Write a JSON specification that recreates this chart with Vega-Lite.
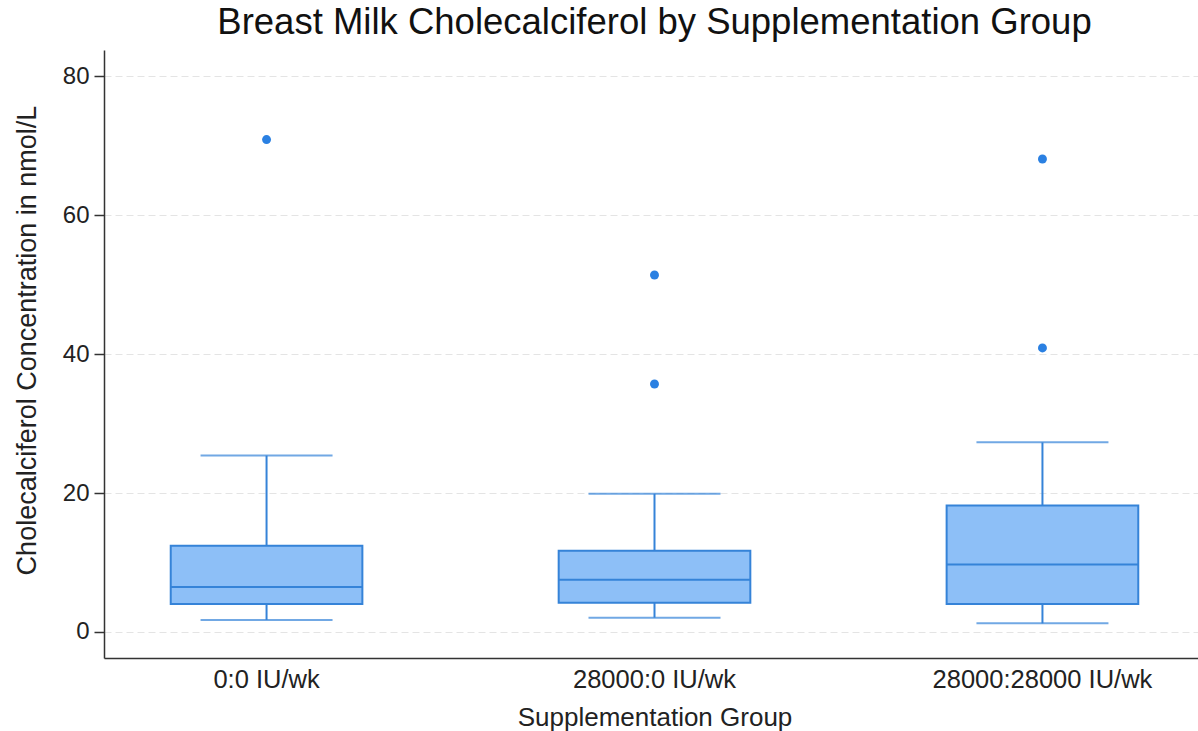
{
  "$schema": "https://vega.github.io/schema/vega-lite/v6.json",
  "autosize": {"type": "none"},
  "padding": {"left": 104, "top": 50, "right": 0, "bottom": 73},
  "width": 1101,
  "height": 608,
  "background": "white",
  "title": {
    "text": "Breast Milk Cholecalciferol by Supplementation Group",
    "font": "Liberation Sans",
    "fontSize": 36.5,
    "fontWeight": "normal",
    "color": "#111111",
    "anchor": "middle",
    "baseline": "alphabetic",
    "offset": 15,
    "dy": 35
  },
  "datasets": {
    "boxes": [
      {"group": "0:0 IU/wk", "lower": 1.73, "q1": 4.03, "median": 6.47, "q3": 12.4, "upper": 25.4},
      {"group": "28000:0 IU/wk", "lower": 2.06, "q1": 4.2, "median": 7.5, "q3": 11.7, "upper": 19.9},
      {"group": "28000:28000 IU/wk", "lower": 1.24, "q1": 4.03, "median": 9.73, "q3": 18.2, "upper": 27.3}
    ],
    "outliers": [
      {"group": "0:0 IU/wk", "value": 70.9},
      {"group": "28000:0 IU/wk", "value": 51.4},
      {"group": "28000:0 IU/wk", "value": 35.7},
      {"group": "28000:28000 IU/wk", "value": 68.1},
      {"group": "28000:28000 IU/wk", "value": 40.9}
    ]
  },
  "encoding": {
    "x": {
      "field": "group",
      "type": "nominal",
      "sort": ["0:0 IU/wk", "28000:0 IU/wk", "28000:28000 IU/wk"],
      "scale": {"paddingInner": 0.506, "paddingOuter": 0.172},
      "axis": {
        "title": "Supplementation Group",
        "labelAngle": 0,
        "labelLimit": 0,
        "ticks": false,
        "tickSize": 0,
        "labelPadding": 9,
        "labelFont": "Liberation Sans",
        "labelFontSize": 25.5,
        "labelColor": "#222222",
        "titleFont": "Liberation Sans",
        "titleFontSize": 26,
        "titleFontWeight": "normal",
        "titleColor": "#222222",
        "titleBaseline": "alphabetic",
        "titleY": 67,
        "domainColor": "#333333",
        "domainWidth": 1.5,
        "grid": false
      }
    }
  },
  "layer": [
    {
      "data": {"name": "boxes"},
      "mark": {"type": "rule", "color": "#3583d8", "strokeWidth": 2},
      "encoding": {
        "y": {
          "field": "lower",
          "type": "quantitative",
          "scale": {"domain": [-3.75, 83.8], "nice": false, "zero": false},
          "axis": {
            "title": "Cholecalciferol Concentration in nmol/L",
            "values": [0, 20, 40, 60, 80],
            "tickSize": 10,
            "tickColor": "#333333",
            "tickWidth": 1.5,
            "labelPadding": 5,
            "labelFont": "Liberation Sans",
            "labelFontSize": 24,
            "labelColor": "#222222",
            "labelBaseline": "middle",
            "titleFont": "Liberation Sans",
            "titleFontSize": 27,
            "titleFontWeight": "normal",
            "titleColor": "#222222",
            "titleAngle": -90,
            "titleBaseline": "alphabetic",
            "titleX": -69,
            "titleY": 290,
            "domainColor": "#333333",
            "domainWidth": 1.5,
            "grid": true,
            "gridColor": "#e4e4e4",
            "gridDash": [7, 4],
            "gridWidth": 1
          }
        },
        "y2": {"field": "upper"}
      }
    },
    {
      "data": {"name": "boxes"},
      "mark": {"type": "tick", "color": "#3583d8", "size": 132, "thickness": 2},
      "encoding": {"y": {"field": "lower", "type": "quantitative"}}
    },
    {
      "data": {"name": "boxes"},
      "mark": {"type": "tick", "color": "#3583d8", "size": 132, "thickness": 2},
      "encoding": {"y": {"field": "upper", "type": "quantitative"}}
    },
    {
      "data": {"name": "boxes"},
      "mark": {"type": "bar", "fill": "#8dbff7", "stroke": "#3583d8", "strokeWidth": 2, "opacity": 1},
      "encoding": {
        "y": {"field": "q1", "type": "quantitative"},
        "y2": {"field": "q3"}
      }
    },
    {
      "data": {"name": "boxes"},
      "mark": {"type": "tick", "color": "#3583d8", "size": 192, "thickness": 2, "opacity": 1},
      "encoding": {"y": {"field": "median", "type": "quantitative"}}
    },
    {
      "data": {"name": "outliers"},
      "mark": {"type": "point", "filled": true, "shape": "circle", "size": 80, "color": "#2a80e2", "opacity": 1},
      "encoding": {"y": {"field": "value", "type": "quantitative"}}
    }
  ],
  "config": {
    "view": {"stroke": null},
    "axisY": {"domainColor": "#333333"}
  }
}
